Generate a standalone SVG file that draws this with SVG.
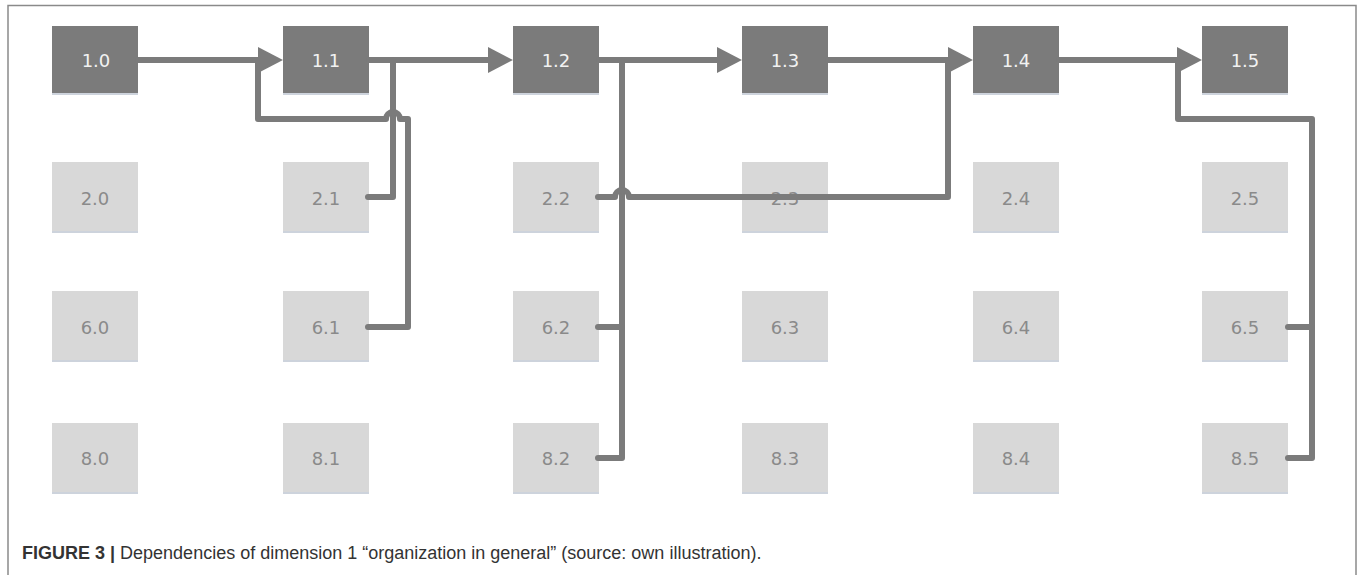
<svg xmlns="http://www.w3.org/2000/svg" width="1358" height="575" viewBox="0 0 1358 575">
<style>
.dark rect.b{fill:#7b7b7b}
.light rect.b{fill:#d8d8d8}
rect.s{fill:#cdd3dc}
.dark text{fill:#f2f2f2}
.light text{fill:#8a8a8a}
text.n{font-family:"DejaVu Sans","Open Sans",sans-serif;font-size:18px;text-anchor:middle;dominant-baseline:central}
.c{fill:none;stroke:#7b7b7b;stroke-width:6;stroke-linejoin:round;stroke-linecap:round}
.ah{fill:#7b7b7b}
.cap{font-family:"Liberation Sans",Arial,sans-serif;font-size:18px;fill:#333}
</style>
<rect x="0" y="0" width="1358" height="575" fill="#fff"/>
<path d="M8,575 V5.5 H1356 V575" fill="none" stroke="#8a8a8a" stroke-width="1.5"/>
<g id="nodes">
<g id="n1_0" class="dark"><rect class="s" x="52" y="93" width="86" height="2"/><rect class="b" x="52" y="26" width="86" height="67"/><text class="n" x="96" y="60">1.0</text></g>
<g id="n1_1" class="dark"><rect class="s" x="283" y="93" width="86" height="2"/><rect class="b" x="283" y="26" width="86" height="67"/><text class="n" x="326" y="60">1.1</text></g>
<g id="n1_2" class="dark"><rect class="s" x="513" y="93" width="86" height="2"/><rect class="b" x="513" y="26" width="86" height="67"/><text class="n" x="556" y="60">1.2</text></g>
<g id="n1_3" class="dark"><rect class="s" x="742" y="93" width="86" height="2"/><rect class="b" x="742" y="26" width="86" height="67"/><text class="n" x="785" y="60">1.3</text></g>
<g id="n1_4" class="dark"><rect class="s" x="973" y="93" width="86" height="2"/><rect class="b" x="973" y="26" width="86" height="67"/><text class="n" x="1016" y="60">1.4</text></g>
<g id="n1_5" class="dark"><rect class="s" x="1202" y="93" width="86" height="2"/><rect class="b" x="1202" y="26" width="86" height="67"/><text class="n" x="1245" y="60">1.5</text></g>

<g id="n2_0" class="light"><rect class="s" x="52" y="231" width="86" height="2"/><rect class="b" x="52" y="162" width="86" height="69"/><text class="n" x="95" y="198">2.0</text></g>
<g id="n2_1" class="light"><rect class="s" x="283" y="231" width="86" height="2"/><rect class="b" x="283" y="162" width="86" height="69"/><text class="n" x="326" y="198">2.1</text></g>
<g id="n2_2" class="light"><rect class="s" x="513" y="231" width="86" height="2"/><rect class="b" x="513" y="162" width="86" height="69"/><text class="n" x="556" y="198">2.2</text></g>
<g id="n2_3" class="light"><rect class="s" x="742" y="231" width="86" height="2"/><rect class="b" x="742" y="162" width="86" height="69"/><text class="n" x="785" y="198">2.3</text></g>
<g id="n2_4" class="light"><rect class="s" x="973" y="231" width="86" height="2"/><rect class="b" x="973" y="162" width="86" height="69"/><text class="n" x="1016" y="198">2.4</text></g>
<g id="n2_5" class="light"><rect class="s" x="1202" y="231" width="86" height="2"/><rect class="b" x="1202" y="162" width="86" height="69"/><text class="n" x="1245" y="198">2.5</text></g>

<g id="n6_0" class="light"><rect class="s" x="52" y="360" width="86" height="2"/><rect class="b" x="52" y="291" width="86" height="69"/><text class="n" x="95" y="327">6.0</text></g>
<g id="n6_1" class="light"><rect class="s" x="283" y="360" width="86" height="2"/><rect class="b" x="283" y="291" width="86" height="69"/><text class="n" x="326" y="327">6.1</text></g>
<g id="n6_2" class="light"><rect class="s" x="513" y="360" width="86" height="2"/><rect class="b" x="513" y="291" width="86" height="69"/><text class="n" x="556" y="327">6.2</text></g>
<g id="n6_3" class="light"><rect class="s" x="742" y="360" width="86" height="2"/><rect class="b" x="742" y="291" width="86" height="69"/><text class="n" x="785" y="327">6.3</text></g>
<g id="n6_4" class="light"><rect class="s" x="973" y="360" width="86" height="2"/><rect class="b" x="973" y="291" width="86" height="69"/><text class="n" x="1016" y="327">6.4</text></g>
<g id="n6_5" class="light"><rect class="s" x="1202" y="360" width="86" height="2"/><rect class="b" x="1202" y="291" width="86" height="69"/><text class="n" x="1245" y="327">6.5</text></g>

<g id="n8_0" class="light"><rect class="s" x="52" y="492" width="86" height="2"/><rect class="b" x="52" y="423" width="86" height="69"/><text class="n" x="95" y="458">8.0</text></g>
<g id="n8_1" class="light"><rect class="s" x="283" y="492" width="86" height="2"/><rect class="b" x="283" y="423" width="86" height="69"/><text class="n" x="326" y="458">8.1</text></g>
<g id="n8_2" class="light"><rect class="s" x="513" y="492" width="86" height="2"/><rect class="b" x="513" y="423" width="86" height="69"/><text class="n" x="556" y="458">8.2</text></g>
<g id="n8_3" class="light"><rect class="s" x="742" y="492" width="86" height="2"/><rect class="b" x="742" y="423" width="86" height="69"/><text class="n" x="785" y="458">8.3</text></g>
<g id="n8_4" class="light"><rect class="s" x="973" y="492" width="86" height="2"/><rect class="b" x="973" y="423" width="86" height="69"/><text class="n" x="1016" y="458">8.4</text></g>
<g id="n8_5" class="light"><rect class="s" x="1202" y="492" width="86" height="2"/><rect class="b" x="1202" y="423" width="86" height="69"/><text class="n" x="1245" y="458">8.5</text></g>
</g>
<g id="connectors">
<path class="c" d="M138,60 H260"/>
<path class="c" d="M369,60 H490"/>
<path class="c" d="M599,60 H720"/>
<path class="c" d="M828,60 H950"/>
<path class="c" d="M1059,60 H1180"/>
<path class="c" d="M368,197 H393 V60"/>
<path class="c" d="M368,327 H408 V119 H400 A7,7 0 0 0 386,119 H258 V60"/>
<path class="c" d="M598,458 H622 V60"/>
<path class="c" d="M598,327 H622"/>
<path class="c" d="M598,197 H615 A7,7 0 0 1 629,197 H948 V60"/>
<path class="c" d="M1288,458 H1312 V119 H1178 V60"/>
<path class="c" d="M1288,327 H1312"/>
<polygon class="ah" points="258,47 283,60 258,73"/>
<polygon class="ah" points="488,47 513,60 488,73"/>
<polygon class="ah" points="717,47 742,60 717,73"/>
<polygon class="ah" points="948,47 973,60 948,73"/>
<polygon class="ah" points="1177,47 1202,60 1177,73"/>
</g>
<text class="cap" x="22" y="559"><tspan font-weight="bold">FIGURE 3 | </tspan>Dependencies of dimension 1 “organization in general” (source: own illustration).</text>
</svg>
